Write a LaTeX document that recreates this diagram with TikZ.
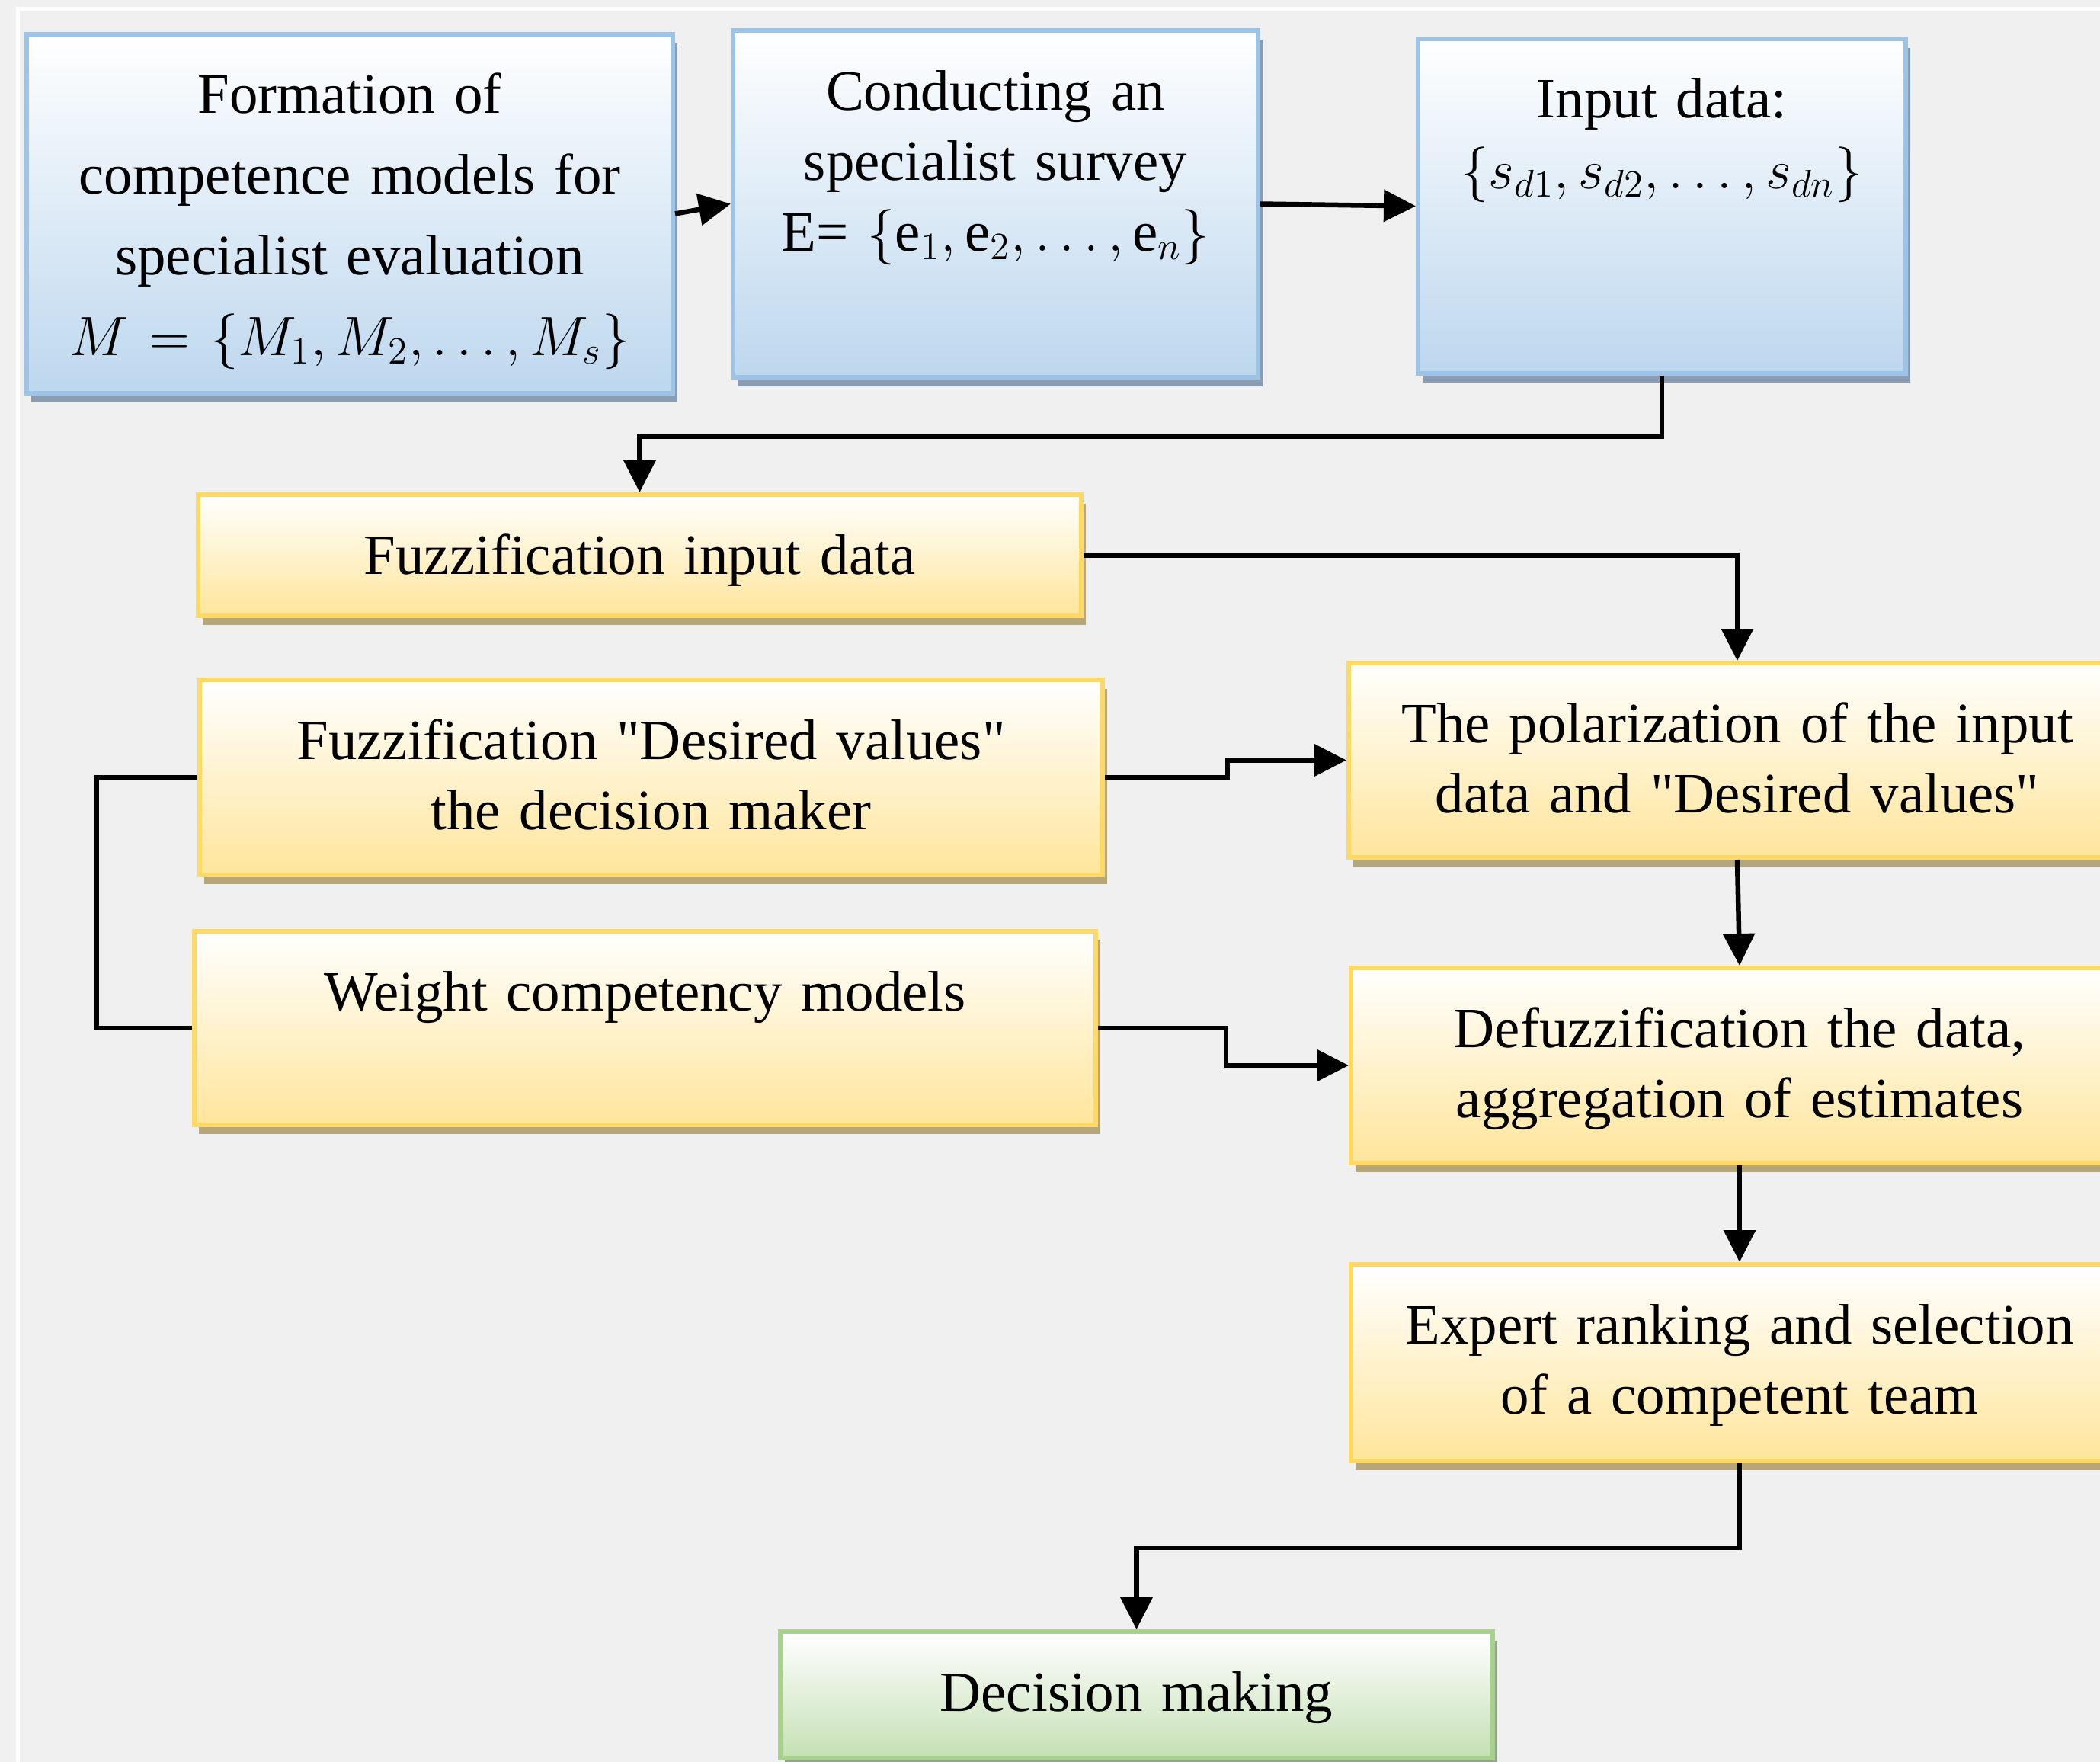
\documentclass[tikz,border=0pt]{standalone}
\usepackage{fontspec}
\setmainfont{Liberation Serif}
\usepackage{xcolor}
\usepackage{tikz}
\usetikzlibrary{arrows.meta,positioning,shadows}

\definecolor{bgcolor}{RGB}{240,240,240}
\definecolor{blueline}{RGB}{157,195,230}
\definecolor{bluefill}{RGB}{189,215,238}
\definecolor{blueshade}{RGB}{137,158,181}
\definecolor{yellowline}{RGB}{255,217,102}
\definecolor{yellowfill}{RGB}{255,229,155}
\definecolor{yellowshade}{RGB}{183,166,122}
\definecolor{greenline}{RGB}{169,209,142}
\definecolor{greenfill}{RGB}{197,224,180}
\definecolor{greenshade}{RGB}{148,164,138}

\begin{document}
\begin{tikzpicture}[
  box/.style={draw,line width=0.06cm,inner xsep=0pt,inner ysep=0pt,align=center,anchor=north west,
    text height=1.04cm,top color=white,font=\fontsize{21.3}{26.4}\selectfont},
  bluebox/.style={box,draw=blueline,bottom color=bluefill,
    drop shadow={shadow xshift=0.06cm,shadow yshift=-0.12cm,fill=blueshade,opacity=1}},
  yellowbox/.style={box,draw=yellowline,bottom color=yellowfill,
    drop shadow={shadow xshift=0.06cm,shadow yshift=-0.12cm,fill=yellowshade,opacity=1}},
  greenbox/.style={box,draw=greenline,bottom color=greenfill,
    drop shadow={shadow xshift=0.06cm,shadow yshift=-0.12cm,fill=greenshade,opacity=1}},
  arrow/.style={-{Triangle[length=4.2mm,width=4.1mm]},line width=0.065cm},
  link/.style={line width=0.055cm}
]
\useasboundingbox (0,0) rectangle (27.56,-23.12);
\fill[bgcolor] (0,0) rectangle (27.56,-23.12);
\draw[white,line width=0.045cm] (0.233,-23.3) -- (0.233,-0.113) -- (27.7,-0.113);

% first row
\node[bluebox,text width=8.48cm,text depth=3.67cm,font=\fontsize{21.3}{30.1}\selectfont] (form) at (0.32,-0.42)
  {Formation of\\competence models for\\specialist evaluation\\$M=\{M_1,M_2,\ldots,M_s\}$};
\node[bluebox,text width=6.89cm,text depth=3.51cm] (survey) at (9.59,-0.37)
  {Conducting an\\specialist survey\\E= $\{\mathrm{e}_1,\mathrm{e}_2,\ldots,\mathrm{e}_n\}$};
\node[bluebox,text width=6.40cm,text depth=3.35cm] (input) at (18.58,-0.48)
  {Input data:\\$\{s_{d1},s_{d2},\ldots,s_{dn}\}$};

% fuzzification
\node[yellowbox,text width=11.59cm,text depth=0.55cm] (fuzzin) at (2.57,-6.46) {Fuzzification input data};
\node[yellowbox,text width=11.85cm,text depth=1.52cm] (desire) at (2.59,-8.89)
  {Fuzzification \textquotedbl Desired values\textquotedbl\\the decision maker};
\node[yellowbox,text width=11.83cm,text depth=1.50cm] (weight) at (2.52,-12.19) {Weight competency models};

% right column
\node[yellowbox,text width=10.2cm,text depth=1.51cm] (polar) at (17.67,-8.67)
  {The polarization of the input\\data and \textquotedbl Desired values\textquotedbl};
\node[yellowbox,text width=10.2cm,text depth=1.52cm] (defuzz) at (17.70,-12.67)
  {Defuzzification the data,\\aggregation of estimates};
\node[yellowbox,text width=10.2cm,text depth=1.54cm] (expert) at (17.70,-16.56)
  {Expert ranking and selection\\of a competent team};

\node[greenbox,text width=9.35cm,text depth=0.62cm] (decision) at (10.21,-21.38) {Decision making};

% connectors
\draw[arrow] (form.east) -- (survey.west);
\draw[arrow] (survey.east) -- (input.west);
\draw[arrow] (input.south) -- ++(0,-0.80) -| (fuzzin.north);
\draw[arrow] (fuzzin.east) -| (polar.north);
\draw[arrow] (desire.east) -- ++(1.61,0) |- (polar.west);
\draw[arrow] (weight.east) -- ++(1.68,0) |- (defuzz.west);
\draw[link] (desire.west) -- ++(-1.32,0) |- (weight.west);
\draw[arrow] (polar.south) -- (defuzz.north);
\draw[arrow] (defuzz.south) -- (expert.north);
\draw[arrow] (expert.south) -- ++(0,-1.11) -| (decision.north);
\end{tikzpicture}
\end{document}
